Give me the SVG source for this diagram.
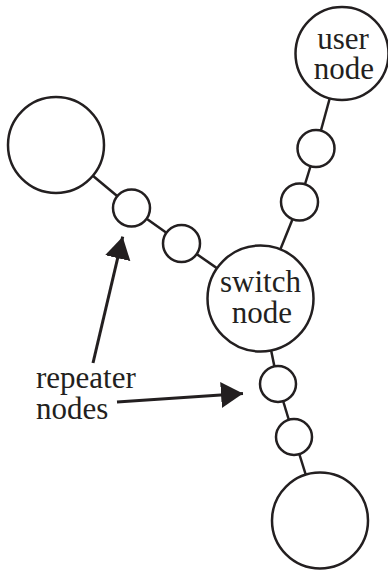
<svg xmlns="http://www.w3.org/2000/svg" width="388" height="571" viewBox="0 0 388 571">
<style>
.n{fill:#fff;stroke:#231f20;stroke-width:2.5}
.c{stroke:#231f20;stroke-width:2.5;fill:none}
.a{stroke:#231f20;stroke-width:3;fill:none}
.t{font-family:"Liberation Serif","Times New Roman",serif;font-size:31px;fill:#231f20}
.m{text-anchor:middle}
</style>
<defs>
<marker id="ah" markerUnits="userSpaceOnUse" markerWidth="24" markerHeight="28" refX="22" refY="13" orient="auto" viewBox="0 0 24 28">
<path d="M0,0 L22,13 L0,26 Z" fill="#231f20"/>
</marker>
</defs>
<rect width="388" height="571" fill="#fff"/>
<g id="connectors">
<line class="c" x1="56" y1="145" x2="131.5" y2="208"/>
<line class="c" x1="131.5" y1="208" x2="181.5" y2="243.5"/>
<line class="c" x1="181.5" y1="243.5" x2="260.5" y2="298.5"/>
<line class="c" x1="342" y1="53.5" x2="316" y2="148.5"/>
<line class="c" x1="316" y1="148.5" x2="299.5" y2="202"/>
<line class="c" x1="299.5" y1="202" x2="260.5" y2="298.5"/>
<line class="c" x1="260.5" y1="298.5" x2="278" y2="384"/>
<line class="c" x1="278" y1="384" x2="294" y2="437"/>
<line class="c" x1="294" y1="437" x2="320" y2="520.5"/>
<line class="a" x1="93" y1="363" x2="122.7" y2="236.7" marker-end="url(#ah)"/>
<line class="a" x1="117" y1="402" x2="243" y2="393.5" marker-end="url(#ah)"/>
</g>
<g id="left-node"><circle class="n" cx="56" cy="145" r="48"/></g>
<g id="user-node"><circle class="n" cx="342" cy="53.5" r="46.5"/>
<text class="t m" x="343" y="48.5">user</text>
<text class="t m" x="344" y="78.5">node</text></g>
<g id="switch-node"><circle class="n" cx="260.5" cy="298.5" r="53"/>
<text class="t m" x="260.5" y="292">switch</text>
<text class="t m" x="262" y="323">node</text></g>
<g id="bottom-node"><circle class="n" cx="320" cy="520.5" r="48"/></g>
<g id="rep1"><circle class="n" cx="131.5" cy="208" r="18.5"/></g>
<g id="rep2"><circle class="n" cx="181.5" cy="243.5" r="18.5"/></g>
<g id="rep3"><circle class="n" cx="316" cy="148.5" r="18.5"/></g>
<g id="rep4"><circle class="n" cx="299.5" cy="202" r="18.5"/></g>
<g id="rep5"><circle class="n" cx="278" cy="384" r="18"/></g>
<g id="rep6"><circle class="n" cx="294" cy="437" r="18"/></g>
<g id="label">
<text class="t" x="36" y="388">repeater</text>
<text class="t" x="36" y="419">nodes</text>
</g>
</svg>
